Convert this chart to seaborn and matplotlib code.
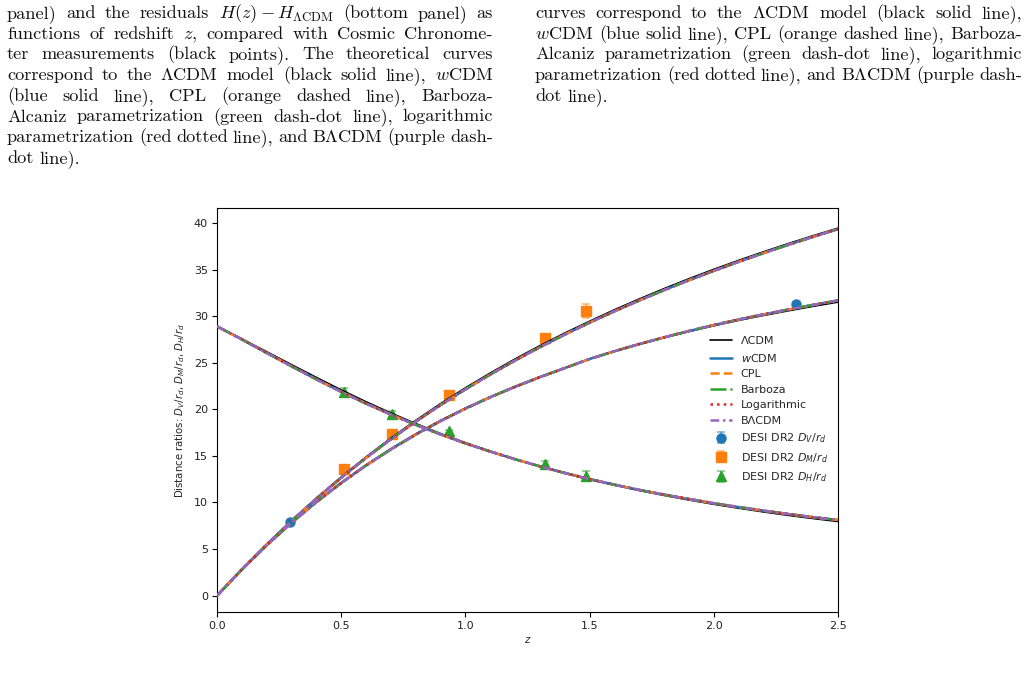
import matplotlib
matplotlib.use("Agg")
import matplotlib.pyplot as plt
import seaborn as sns
import numpy as np

# ---------------- data ----------------
z_grid = [0.0, 0.1, 0.2, 0.3, 0.4, 0.5, 0.6, 0.7, 0.8, 0.9, 1.0, 1.1, 1.2,
          1.3, 1.4, 1.5, 1.6, 1.7, 1.8, 1.9, 2.0, 2.1, 2.2, 2.3, 2.4, 2.5]

# LambdaCDM curves
dv_lcdm = [0.0, 2.80, 5.42, 7.85, 10.09, 12.15, 14.04, 15.77, 17.36, 18.81, 20.13,
           21.35, 22.46, 23.49, 24.44, 25.41, 26.22, 26.97, 27.68, 28.34, 28.96,
           29.54, 30.07, 30.57, 31.05, 31.50]
dm_lcdm = [0.0, 2.82, 5.51, 8.06, 10.47, 12.74, 14.89, 16.91, 18.81, 20.61, 22.30,
           23.89, 25.40, 26.83, 28.18, 29.45, 30.68, 31.84, 32.95, 34.01, 35.02,
           35.98, 36.90, 37.78, 38.63, 39.44]
dh_lcdm = [28.90, 27.56, 26.18, 24.79, 23.42, 22.08, 20.81, 19.60, 18.47, 17.40, 16.41,
           15.50, 14.64, 13.86, 13.13, 12.45, 11.86, 11.29, 10.76, 10.27, 9.81,
           9.39, 8.99, 8.62, 8.28, 7.96]

# dynamical dark-energy models (wCDM, CPL, Barboza, Logarithmic, BLambdaCDM overlap)
dv_dde = [0.0, 2.80, 5.41, 7.82, 10.04, 12.09, 13.97, 15.70, 17.29, 18.74, 20.07,
          21.29, 22.41, 23.45, 24.42, 25.40, 26.23, 27.00, 27.72, 28.40, 29.04,
          29.63, 30.18, 30.70, 31.20, 31.68]
dm_dde = [0.0, 2.82, 5.49, 8.02, 10.41, 12.66, 14.79, 16.79, 18.68, 20.46, 22.14,
          23.73, 25.24, 26.67, 28.02, 29.30, 30.52, 31.68, 32.79, 33.85, 34.86,
          35.83, 36.76, 37.65, 38.51, 39.34]
dh_dde = [28.90, 27.50, 26.05, 24.62, 23.22, 21.88, 20.62, 19.44, 18.34, 17.31, 16.35,
          15.47, 14.64, 13.88, 13.17, 12.51, 11.91, 11.35, 10.84, 10.37, 9.92,
          9.51, 9.12, 8.76, 8.42, 8.12]

model_names = ["ΛCDM", "$w$CDM", "CPL", "Barboza", "Logarithmic", "BΛCDM"]

# DESI DR2 BAO measurements
z_dv = [0.295, 2.330]
dv_obs = [7.94, 31.27]
dv_err = [0.08, 0.26]

z_dm = [0.510, 0.706, 0.934, 1.321, 1.484]
dm_obs = [13.59, 17.35, 21.58, 27.60, 30.51]
dm_err = [0.17, 0.18, 0.15, 0.32, 0.76]

z_dh = [0.510, 0.706, 0.934, 1.321, 1.484]
dh_obs = [21.86, 19.46, 17.64, 14.18, 12.82]
dh_err = [0.43, 0.33, 0.19, 0.22, 0.52]

# ---------------- figure ----------------
W, H = 1028, 680
sns.set_theme(style="ticks")
plt.rcParams["font.family"] = ["DejaVu Sans"]
plt.rcParams["mathtext.fontset"] = "dejavusans"

fig = plt.figure(figsize=(W / 100, H / 100), dpi=100)
fig.patch.set_facecolor("white")
ax = fig.add_axes([217 / W, 1 - 612 / H, (838 - 217) / W, (612 - 208) / H])
ax.set_facecolor("white")
for s in ax.spines.values():
    s.set_color("black")
    s.set_linewidth(0.8)

pal = sns.color_palette("tab10")

# data points
def errpts(x, y, e, marker, color, label):
    ax.errorbar(x, y, yerr=e, fmt=marker, color=color, ms=6.5,
                ecolor=(*color, 0.55), elinewidth=1.2, capsize=3,
                capthick=1.2, label=label, zorder=2)

errpts(z_dv, dv_obs, dv_err, "o", pal[0], "DESI DR2 $D_V/r_d$")
errpts(z_dm, dm_obs, dm_err, "s", pal[1], "DESI DR2 $D_M/r_d$")
errpts(z_dh, dh_obs, dh_err, "^", pal[2], "DESI DR2 $D_H/r_d$")

styles = [
    ("ΛCDM", "black", "-", 1.2, (dv_lcdm, dm_lcdm, dh_lcdm)),
    ("$w$CDM", pal[0], "-", 1.8, (dv_dde, dm_dde, dh_dde)),
    ("CPL", pal[1], (0, (3.7, 1.6)), 1.8, (dv_dde, dm_dde, dh_dde)),
    ("Barboza", pal[2], (0, (6.4, 1.6, 1, 1.6)), 1.8, (dv_dde, dm_dde, dh_dde)),
    ("Logarithmic", pal[3], (0, (1, 1.65)), 1.8, (dv_dde, dm_dde, dh_dde)),
    ("BΛCDM", pal[4], (0, (3.5, 1.5, 1, 1.5)), 1.8, (dv_dde, dm_dde, dh_dde)),
]
for name, col, ls, lw, arrs in styles:
    for i, arr in enumerate(arrs):
        sns.lineplot(x=z_grid, y=arr, ax=ax, color=col, linestyle=ls,
                     linewidth=lw, label=name if i == 0 else None,
                     sort=False, estimator=None, zorder=3)

ax.set_xlim(0, 2.5)
ax.set_ylim(-1.75, 41.6)
ax.set_xticks([0.0, 0.5, 1.0, 1.5, 2.0, 2.5])
ax.set_yticks([0, 5, 10, 15, 20, 25, 30, 35, 40])
ax.set_xticklabels(["0.0", "0.5", "1.0", "1.5", "2.0", "2.5"])
ax.tick_params(axis="both", labelsize=8, length=3.5, width=0.8, color="black",
               labelcolor="#222222", pad=3)
ax.set_xlabel("$z$", fontsize=7.3, labelpad=3, color="#222222")
ax.set_ylabel("Distance ratios: $D_V/r_d$, $D_M/r_d$, $D_H/r_d$", fontsize=7.3,
              labelpad=5, color="#222222")

handles, labels = ax.get_legend_handles_labels()
order = [labels.index(n) for n in model_names] + \
        [labels.index(l) for l in ["DESI DR2 $D_V/r_d$", "DESI DR2 $D_M/r_d$", "DESI DR2 $D_H/r_d$"]]
ax.legend([handles[i] for i in order], [labels[i] for i in order],
          loc="center right", bbox_to_anchor=(1.0, 0.5), frameon=False,
          fontsize=8, handlelength=2.0, labelspacing=0.5, handletextpad=0.8)

# ---------------- paper text above the chart ----------------
renderer = fig.canvas.get_renderer()
FS = 13.2

def text_line(tokens, x0, x1, ybase, justify=True):
    objs = [fig.text(0, 1 - ybase / H, t, fontsize=FS, family="cmr10",
                     math_fontfamily="cm", va="baseline", ha="left", color="#111111")
            for t in tokens]
    widths = [o.get_window_extent(renderer).width for o in objs]
    space = FS * 1.389 * 0.333
    if justify and len(tokens) > 1:
        gap = max((x1 - x0 - sum(widths)) / (len(tokens) - 1), space * 0.6)
    else:
        gap = space
    x = x0
    for o, w in zip(objs, widths):
        o.set_x(x / W)
        x += w + gap

left_lines = [
    "panel) and the residuals $H(z)-H_{\\Lambda\\mathrm{CDM}}$ (bottom panel) as",
    "functions of redshift $z$, compared with Cosmic Chronome-",
    "ter measurements (black points). The theoretical curves",
    "correspond to the $\\Lambda$CDM model (black solid line), $w$CDM",
    "(blue solid line), CPL (orange dashed line), Barboza-",
    "Alcaniz parametrization (green dash-dot line), logarithmic",
    "parametrization (red dotted line), and B$\\Lambda$CDM (purple dash-",
    "dot line).",
]
right_lines = [
    "curves correspond to the $\\Lambda$CDM model (black solid line),",
    "$w$CDM (blue solid line), CPL (orange dashed line), Barboza-",
    "Alcaniz parametrization (green dash-dot line), logarithmic",
    "parametrization (red dotted line), and B$\\Lambda$CDM (purple dash-",
    "dot line).",
]

def split_tokens(line):
    toks, cur, inmath = [], "", False
    for ch in line:
        if ch == "$":
            inmath = not inmath
        if ch == " " and not inmath:
            if cur:
                toks.append(cur)
            cur = ""
        else:
            cur += ch
    if cur:
        toks.append(cur)
    return toks

for i, ln in enumerate(left_lines):
    text_line(split_tokens(ln), 7, 493, 18 + 20.7 * i, justify=(i < len(left_lines) - 1))
for i, ln in enumerate(right_lines):
    text_line(split_tokens(ln), 535, 1022, 18 + 20.7 * i, justify=(i < len(right_lines) - 1))

fig.savefig("out.png", dpi=100, facecolor="white")
